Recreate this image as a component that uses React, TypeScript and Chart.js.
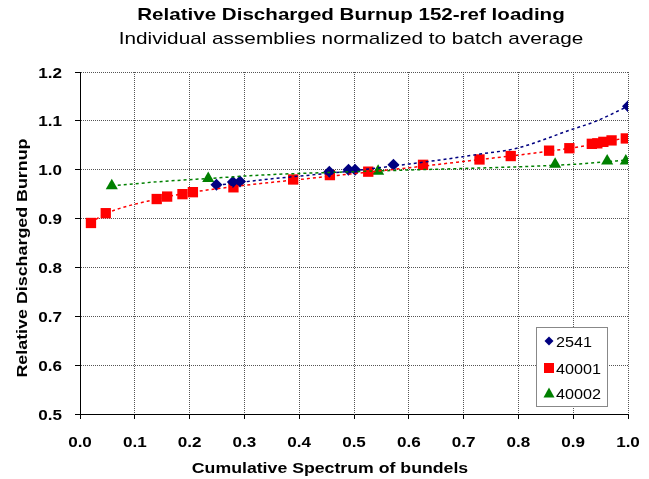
import React, { useEffect, useRef } from "react";
import { Chart, registerables } from "chart.js";
Chart.register(...registerables);

const FONT = "'Liberation Sans', Arial, sans-serif";

const TITLE = "Relative Discharged Burnup 152-ref loading";
const SUBTITLE = "Individual assemblies normalized to batch average";
const X_TITLE = "Cumulative Spectrum of bundels";
const Y_TITLE = "Relative Discharged Burnup";

const blueX = [0.249, 0.279, 0.292, 0.455, 0.49, 0.502, 0.572, 1.0];
const blueY = [0.969, 0.975, 0.976, 0.996, 1.0, 1.0, 1.01, 1.13];

const redX = [0.02, 0.047, 0.14, 0.159, 0.187, 0.206, 0.28, 0.389, 0.456, 0.526, 0.626, 0.729, 0.786, 0.856, 0.893, 0.934, 0.944, 0.955, 0.97, 0.996];
const redY = [0.891, 0.911, 0.94, 0.945, 0.95, 0.954, 0.964, 0.98, 0.989, 0.996, 1.01, 1.021, 1.028, 1.039, 1.044, 1.053, 1.054, 1.057, 1.06, 1.064];

const greenX = [0.058, 0.234, 0.544, 0.867, 0.962, 0.996];
const greenY = [0.967, 0.982, 0.997, 1.011, 1.018, 1.018];

// trendlines
const blueTrendX = [0.25, 0.33, 0.5, 0.657, 0.73, 0.797, 0.894, 0.943, 1.0];
const blueTrendY = [0.968, 0.979, 0.998, 1.02, 1.032, 1.044, 1.081, 1.1, 1.13];
const redTrendX = [0.02, 0.047, 0.14, 0.2, 0.3, 0.4, 0.5, 0.6, 0.7, 0.8, 0.9, 1.0];
const redTrendY = [0.892, 0.91, 0.94, 0.953, 0.968, 0.98, 0.992, 1.004, 1.017, 1.03, 1.045, 1.066];
const greenTrendX = [0.058, 0.15, 0.234, 0.33, 0.5, 0.65, 0.8, 0.9, 1.0];
const greenTrendY = [0.967, 0.976, 0.982, 0.989, 0.996, 1.001, 1.006, 1.011, 1.02];

const seriesNames = ["2541", "40001", "40002"];
const BLUE = "#000080";
const RED = "#ff0000";
const GREEN = "#008000";

const zip = (xs: number[], ys: number[]) => xs.map((x, i) => ({ x, y: ys[i] }));

function sText(ctx: CanvasRenderingContext2D, text: string, x: number, y: number, sx: number, align: CanvasTextAlign, rot = 0) {
  ctx.save();
  ctx.translate(x, y);
  if (rot) ctx.rotate(rot);
  ctx.scale(sx, 1);
  ctx.textAlign = align;
  ctx.textBaseline = "alphabetic";
  ctx.fillText(text, 0, 0);
  ctx.restore();
}

function drawMarker(ctx: CanvasRenderingContext2D, kind: number, x: number, y: number) {
  ctx.beginPath();
  if (kind === 0) {
    ctx.fillStyle = BLUE;
    const r = 4.5;
    ctx.moveTo(x, y - r);
    ctx.lineTo(x + r, y);
    ctx.lineTo(x, y + r);
    ctx.lineTo(x - r, y);
    ctx.closePath();
  } else if (kind === 1) {
    ctx.fillStyle = RED;
    ctx.rect(x - 5, y - 5, 10, 10);
  } else {
    ctx.fillStyle = GREEN;
    ctx.moveTo(x, y - 5.5);
    ctx.lineTo(x + 5.5, y + 4.5);
    ctx.lineTo(x - 5.5, y + 4.5);
    ctx.closePath();
  }
  ctx.fill();
}

const decoPlugin = {
  id: "deco",
  afterDraw(chart: any) {
    const { ctx, chartArea } = chart;
    const xs = chart.scales.x;
    const ys = chart.scales.y;
    ctx.save();
    ctx.fillStyle = "#000";
    // titles
    const cx = (chartArea.left + chartArea.right) / 2 - 3;
    ctx.font = `bold 17px ${FONT}`;
    sText(ctx, TITLE, cx, 20, 1.21, "center");
    ctx.font = `17px ${FONT}`;
    sText(ctx, SUBTITLE, cx, 44, 1.22, "center");

    // tick labels
    ctx.font = `bold 14px ${FONT}`;
    xs.ticks.forEach((t: any) => {
      const px = xs.getPixelForValue(t.value);
      sText(ctx, Number(t.value).toFixed(1), px, 447, 1.22, "center");
    });
    ys.ticks.forEach((t: any) => {
      const py = ys.getPixelForValue(t.value);
      sText(ctx, Number(t.value).toFixed(1), 62, py + 5.5, 1.22, "right");
    });

    // axis titles
    ctx.font = `bold 15px ${FONT}`;
    sText(ctx, X_TITLE, (chartArea.left + chartArea.right) / 2 - 24, 473, 1.18, "center");
    sText(ctx, Y_TITLE, 27, 258, 1.19, "center", -Math.PI / 2);

    // legend
    const w = 71, h = 79;
    const x0 = Math.round(chartArea.right - 21 - w);
    const y0 = Math.round(chartArea.bottom - 8 - h);
    ctx.fillStyle = "#fff";
    ctx.fillRect(x0, y0, w, h);
    ctx.strokeStyle = "#888";
    ctx.lineWidth = 1;
    ctx.strokeRect(x0 + 0.5, y0 + 0.5, w, h);
    ctx.font = `15px ${FONT}`;
    const rows = [14, 41, 66];
    seriesNames.forEach((name, i) => {
      const cy = y0 + rows[i];
      drawMarker(ctx, i, x0 + 13, cy);
      ctx.fillStyle = "#000";
      sText(ctx, name, x0 + 20, cy + 5.5, 1.08, "left");
    });
    ctx.restore();
  },
};

export default function App() {
  const ref = useRef<HTMLCanvasElement>(null);
  useEffect(() => {
    if (!ref.current) return;
    const trend = (data: any, color: string) => ({
      type: "line" as const,
      data,
      showLine: true,
      borderColor: color,
      borderWidth: 1.5,
      borderDash: [3, 3],
      pointRadius: 0,
      fill: false,
      cubicInterpolationMode: "monotone" as const,
      order: 0,
    });
    const hiddenTicks = { stepSize: 0.1, color: "rgba(0,0,0,0)", font: { family: FONT, size: 14, weight: "bold" as const }, padding: 10, maxRotation: 0 };
    const chart = new Chart(ref.current, {
      type: "scatter",
      data: {
        datasets: [
          { label: seriesNames[0], data: zip(blueX, blueY), pointStyle: "rectRot", pointRadius: 6, backgroundColor: BLUE, borderColor: BLUE, borderWidth: 0, order: 1 },
          { label: seriesNames[1], data: zip(redX, redY), pointStyle: "rect", pointRadius: 7.3, backgroundColor: RED, borderColor: RED, borderWidth: 0, order: 1 },
          { label: seriesNames[2], data: zip(greenX, greenY), pointStyle: "triangle", pointRadius: 7, backgroundColor: GREEN, borderColor: GREEN, borderWidth: 0, order: 1 },
          trend(zip(blueTrendX, blueTrendY), BLUE) as any,
          trend(zip(redTrendX, redTrendY), RED) as any,
          trend(zip(greenTrendX, greenTrendY), GREEN) as any,
        ],
      },
      options: {
        animation: false,
        responsive: false,
        maintainAspectRatio: false,
        layout: { padding: { top: 72, right: 21, left: 0, bottom: 0 } },
        plugins: { legend: { display: false }, tooltip: { enabled: false } },
        scales: {
          x: {
            type: "linear",
            min: 0,
            max: 1,
            afterFit: (s: any) => { s.height = 65; },
            ticks: hiddenTicks,
            grid: { color: "#555", lineWidth: 1, tickColor: "#000", tickLength: 5 },
            border: { color: "#000", width: 1, dash: [1, 1] },
          },
          y: {
            type: "linear",
            min: 0.5,
            max: 1.2,
            afterFit: (s: any) => { s.width = 80; },
            ticks: hiddenTicks,
            grid: { color: "#555", lineWidth: 1, tickColor: "#000", tickLength: 5 },
            border: { color: "#000", width: 1, dash: [1, 1] },
          },
        },
      },
      plugins: [decoPlugin],
    });
    return () => chart.destroy();
  }, []);
  return (
    <div style={{ position: "fixed", left: 0, top: 0, width: 649, height: 479, background: "#fff" }}>
      <canvas ref={ref} width={649} height={479} style={{ width: 649, height: 479 }} />
    </div>
  );
}
